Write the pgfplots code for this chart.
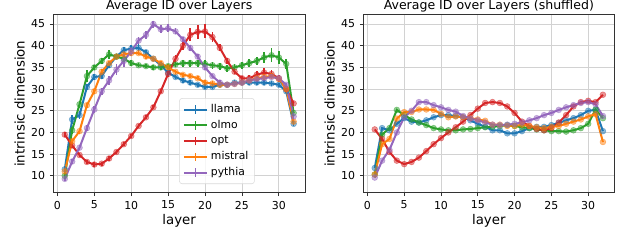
\documentclass[border=0pt]{standalone}
\usepackage{pgfplots}
\pgfplotsset{compat=1.18}
\usepackage{fontspec}
\setmainfont{DejaVu Sans}
\definecolor{cblue}{HTML}{1F77B4}
\definecolor{corange}{HTML}{FF7F0E}
\definecolor{cgreen}{HTML}{2CA02C}
\definecolor{cred}{HTML}{D62728}
\definecolor{cpurple}{HTML}{9467BD}
\pgfplotsset{
  base/.style={
    scale only axis,
    xmin=-0.55, xmax=33.55, ymin=6.1, ymax=47.15,
    xtick={0,5,...,30}, ytick={10,15,...,45},
    grid=major, major grid style={gray!35, line width=0.6pt},
    axis line style={black!80, line width=0.6pt},
    tick style={black!80, line width=0.6pt},
    tick align=outside, major tick length=2.6pt,
    xtick pos=bottom, ytick pos=left,
    /pgf/number format/assume math mode=true,
    ticklabel style={font=\fontsize{8.2}{9}\selectfont},
    label style={font=\fontsize{10}{12}\selectfont},
    title style={font=\fontsize{9.4}{11}\selectfont, yshift=-7.6pt},
    xlabel={layer}, ylabel={intrinsic dimension},
    xlabel style={yshift=3pt},
    ylabel style={yshift=-2pt},
  },
  ser/.style={color=#1, line width=1.5pt, mark=*, mark size=2.2pt,
    mark options={fill=#1, draw=#1, fill opacity=0.5, draw opacity=0.5, line width=0.4pt},
    error bars/y dir=both, error bars/y explicit,
    error bars/error bar style={line width=1.3pt, color=#1},
    error bars/error mark=none,
    legend image code/.code={
      \draw[line width=1.5pt] (0cm,0cm) -- (0.62cm,0cm);
      \draw[line width=1.3pt] (0.31cm,-0.11cm) -- (0.31cm,0.11cm);
    }},
  sh/.style={color=#1, line width=1.5pt, mark=*, mark size=2.2pt,
    mark options={fill=#1, draw=#1, fill opacity=0.5, draw opacity=0.5, line width=0.4pt}},
}
\begin{document}
\begin{tikzpicture}
\useasboundingbox (0,0) rectangle (480pt,188.25pt);
\begin{axis}[base, at={(40pt,43.7pt)}, anchor=south west, width=188.8pt, height=133.5pt,
  title={Average ID over Layers},
  legend style={at={(0.5,0.049)}, anchor=south west, font=\fontsize{8.1}{9.5}\selectfont,
    draw=black!15, rounded corners=2pt, fill=white, fill opacity=0.8, text opacity=1,
    row sep=0.3pt, inner sep=2.5pt},
  legend cell align=left]
\addplot+[ser=cblue] coordinates {
(1,11.5)+-(0,0.5) (2,23)+-(0,1) (3,24)+-(0,1) (4,30.5)+-(0,0.6) (5,32.8)+-(0,0.6) (6,33)+-(0,0.6)
(7,35.5)+-(0,0.6) (8,37.5)+-(0,0.6) (9,39)+-(0,0.8) (10,39.3)+-(0,0.8) (11,39.5)+-(0,0.8) (12,38.5)+-(0,0.6)
(13,37)+-(0,0.5) (14,35.5)+-(0,0.5) (15,33.8)+-(0,0.5) (16,32.8)+-(0,0.5) (17,32)+-(0,0.5) (18,31.5)+-(0,0.5)
(19,31)+-(0,0.5) (20,30.5)+-(0,0.5) (21,30.5)+-(0,0.5) (22,31)+-(0,0.5) (23,31)+-(0,0.5) (24,31.5)+-(0,0.5)
(25,31.5)+-(0,0.5) (26,31.5)+-(0,0.5) (27,31.5)+-(0,0.5) (28,31.5)+-(0,0.5) (29,31.3)+-(0,0.5) (30,31)+-(0,0.5)
(31,29.5)+-(0,0.5) (32,22)+-(0,0.5)};
\addlegendentry{llama}
\addplot+[ser=cgreen] coordinates {
(1,10)+-(0,0.5) (2,20.5)+-(0,0.8) (3,26.5)+-(0,0.8) (4,33)+-(0,1.3) (5,35)+-(0,0.6) (6,36.5)+-(0,0.6)
(7,38)+-(0,1) (8,37.5)+-(0,0.6) (9,37)+-(0,0.6) (10,36)+-(0,0.6) (11,35.5)+-(0,0.5) (12,35.3)+-(0,0.5)
(13,35)+-(0,0.5) (14,35)+-(0,0.6) (15,35.3)+-(0,0.6) (16,35.7)+-(0,0.6) (17,36)+-(0,0.8) (18,36)+-(0,0.8)
(19,36)+-(0,0.8) (20,35.8)+-(0,0.8) (21,35.5)+-(0,0.8) (22,35.3)+-(0,0.8) (23,34.8)+-(0,0.8) (24,35)+-(0,0.8)
(25,35.5)+-(0,0.8) (26,36)+-(0,0.9) (27,36.5)+-(0,1) (28,37.3)+-(0,1.3) (29,37.8)+-(0,1.6) (30,37.3)+-(0,1.5)
(31,35.8)+-(0,1.2) (32,24.5)+-(0,0.6)};
\addlegendentry{olmo}
\addplot+[ser=cred] coordinates {
(1,19.5)+-(0,0.5) (2,17)+-(0,0.5) (3,14.8)+-(0,0.5) (4,13.2)+-(0,0.5) (5,12.6)+-(0,0.5) (6,12.8)+-(0,0.5)
(7,14)+-(0,0.5) (8,15.5)+-(0,0.5) (9,17.3)+-(0,0.5) (10,19.2)+-(0,0.5) (11,21.5)+-(0,0.5) (12,23.5)+-(0,0.5)
(13,25.8)+-(0,0.5) (14,29.5)+-(0,0.5) (15,33.5)+-(0,0.6) (16,37)+-(0,0.8) (17,40)+-(0,1) (18,42.5)+-(0,1.5)
(19,43.2)+-(0,1.6) (20,43.3)+-(0,1.6) (21,42)+-(0,1.1) (22,39.5)+-(0,0.8) (23,36.5)+-(0,0.7) (24,34)+-(0,0.6)
(25,32.5)+-(0,0.6) (26,32.5)+-(0,0.7) (27,33.3)+-(0,0.9) (28,33.8)+-(0,1) (29,33.5)+-(0,1) (30,32.5)+-(0,0.8)
(31,30)+-(0,0.6) (32,26.7)+-(0,0.5)};
\addlegendentry{opt}
\addplot+[ser=corange] coordinates {
(1,11)+-(0,0.5) (2,18)+-(0,0.6) (3,20.3)+-(0,0.6) (4,26.3)+-(0,0.6) (5,29.5)+-(0,0.6) (6,34)+-(0,0.6)
(7,36)+-(0,0.5) (8,37.5)+-(0,0.5) (9,38)+-(0,0.5) (10,38.3)+-(0,0.5) (11,38.3)+-(0,0.5) (12,37.5)+-(0,0.5)
(13,37)+-(0,0.5) (14,36)+-(0,0.5) (15,35)+-(0,0.5) (16,34)+-(0,0.5) (17,33.3)+-(0,0.5) (18,33)+-(0,0.5)
(19,32.5)+-(0,0.5) (20,31.5)+-(0,0.5) (21,31.3)+-(0,0.5) (22,31)+-(0,0.5) (23,31)+-(0,0.5) (24,31.2)+-(0,0.5)
(25,31.5)+-(0,0.5) (26,32)+-(0,0.5) (27,32.5)+-(0,0.5) (28,32.8)+-(0,0.6) (29,33)+-(0,0.6) (30,32.3)+-(0,0.5)
(31,30)+-(0,0.5) (32,22.5)+-(0,0.5)};
\addlegendentry{mistral}
\addplot+[ser=cpurple] coordinates {
(1,9.3)+-(0,0.5) (2,13.3)+-(0,0.6) (3,16.5)+-(0,0.6) (4,21)+-(0,0.7) (5,25.3)+-(0,0.7) (6,29.5)+-(0,0.8)
(7,32)+-(0,1) (8,34.5)+-(0,1.2) (9,36.5)+-(0,1.5) (10,38.7)+-(0,1) (11,41.2)+-(0,0.9) (12,42.5)+-(0,0.9)
(13,45)+-(0,0.8) (14,43.8)+-(0,0.9) (15,44)+-(0,0.9) (16,43.3)+-(0,0.7) (17,41.5)+-(0,0.6) (18,39.5)+-(0,0.6)
(19,37.5)+-(0,0.6) (20,35)+-(0,0.5) (21,33)+-(0,0.5) (22,31.5)+-(0,0.5) (23,31)+-(0,0.5) (24,31.2)+-(0,0.5)
(25,31.5)+-(0,0.5) (26,32)+-(0,0.5) (27,32.3)+-(0,0.5) (28,32.5)+-(0,0.5) (29,32.8)+-(0,0.5) (30,32.5)+-(0,0.5)
(31,31)+-(0,0.5) (32,23.7)+-(0,0.5)};
\addlegendentry{pythia}
\end{axis}
\begin{axis}[base, at={(272.5pt,43.7pt)}, anchor=south west, width=188.25pt, height=133.5pt,
  title={Average ID over Layers (shuffled)}]
\addplot+[sh=cblue] coordinates {
(1,11.8) (2,21) (3,20.5) (4,22) (5,23.3) (6,22.5) (7,22.3) (8,22.8) (9,23.5) (10,24) (11,24) (12,23.8)
(13,23.5) (14,22.8) (15,22) (16,21.3) (17,20.5) (18,20.5) (19,19.8) (20,19.8) (21,20.3) (22,21) (23,21.3) (24,21.3)
(25,21.7) (26,22.2) (27,22.8) (28,23.3) (29,24) (30,25) (31,25.2) (32,20.3)};
\addplot+[sh=cgreen] coordinates {
(1,10.3) (2,19.5) (3,21) (4,25.2) (5,24) (6,23) (7,22.3) (8,21.7) (9,21) (10,20.7) (11,20.5) (12,20.5)
(13,20.7) (14,20.8) (15,21) (16,21.2) (17,21.3) (18,21.5) (19,21.7) (20,21.5) (21,21.2) (22,21) (23,20.7) (24,20.5)
(25,20.3) (26,20.3) (27,20.2) (28,20.5) (29,21) (30,22) (31,25.3) (32,23.3)};
\addplot+[sh=cred] coordinates {
(1,20.7) (2,18.5) (3,15.5) (4,13.5) (5,12.7) (6,13.2) (7,14.2) (8,15.7) (9,17.3) (10,18.7) (11,20) (12,21.2)
(13,22.5) (14,24) (15,25.5) (16,26.8) (17,27) (18,26.8) (19,26) (20,24.5) (21,22.5) (22,21.5) (23,20.8) (24,20.5)
(25,21) (26,22.3) (27,24) (28,26) (29,27) (30,27.3) (31,27) (32,28.7)};
\addplot+[sh=corange] coordinates {
(1,10.3) (2,17.3) (3,18.5) (4,23.2) (5,24.7) (6,24.7) (7,25.3) (8,25.3) (9,25.2) (10,24.3) (11,23.5) (12,23.7)
(13,23.5) (14,23.3) (15,23) (16,22.7) (17,21.8) (18,21.8) (19,21.5) (20,21.5) (21,21.8) (22,21.5) (23,21.2) (24,21)
(25,21.3) (26,21.5) (27,22) (28,22.5) (29,23) (30,23.7) (31,24.2) (32,17.8)};
\addplot+[sh=cpurple] coordinates {
(1,9.6) (2,13.5) (3,16) (4,20) (5,23.5) (6,25) (7,27) (8,27) (9,26.3) (10,25.8) (11,25.2) (12,24.8)
(13,23.8) (14,23.2) (15,22.8) (16,22.3) (17,21.8) (18,21.7) (19,21.8) (20,22) (21,22.3) (22,22.8) (23,23.3) (24,24)
(25,24.5) (26,25.2) (27,25.8) (28,26.3) (29,26.8) (30,27) (31,26.5) (32,23.8)};
\end{axis}
\end{tikzpicture}
\end{document}
